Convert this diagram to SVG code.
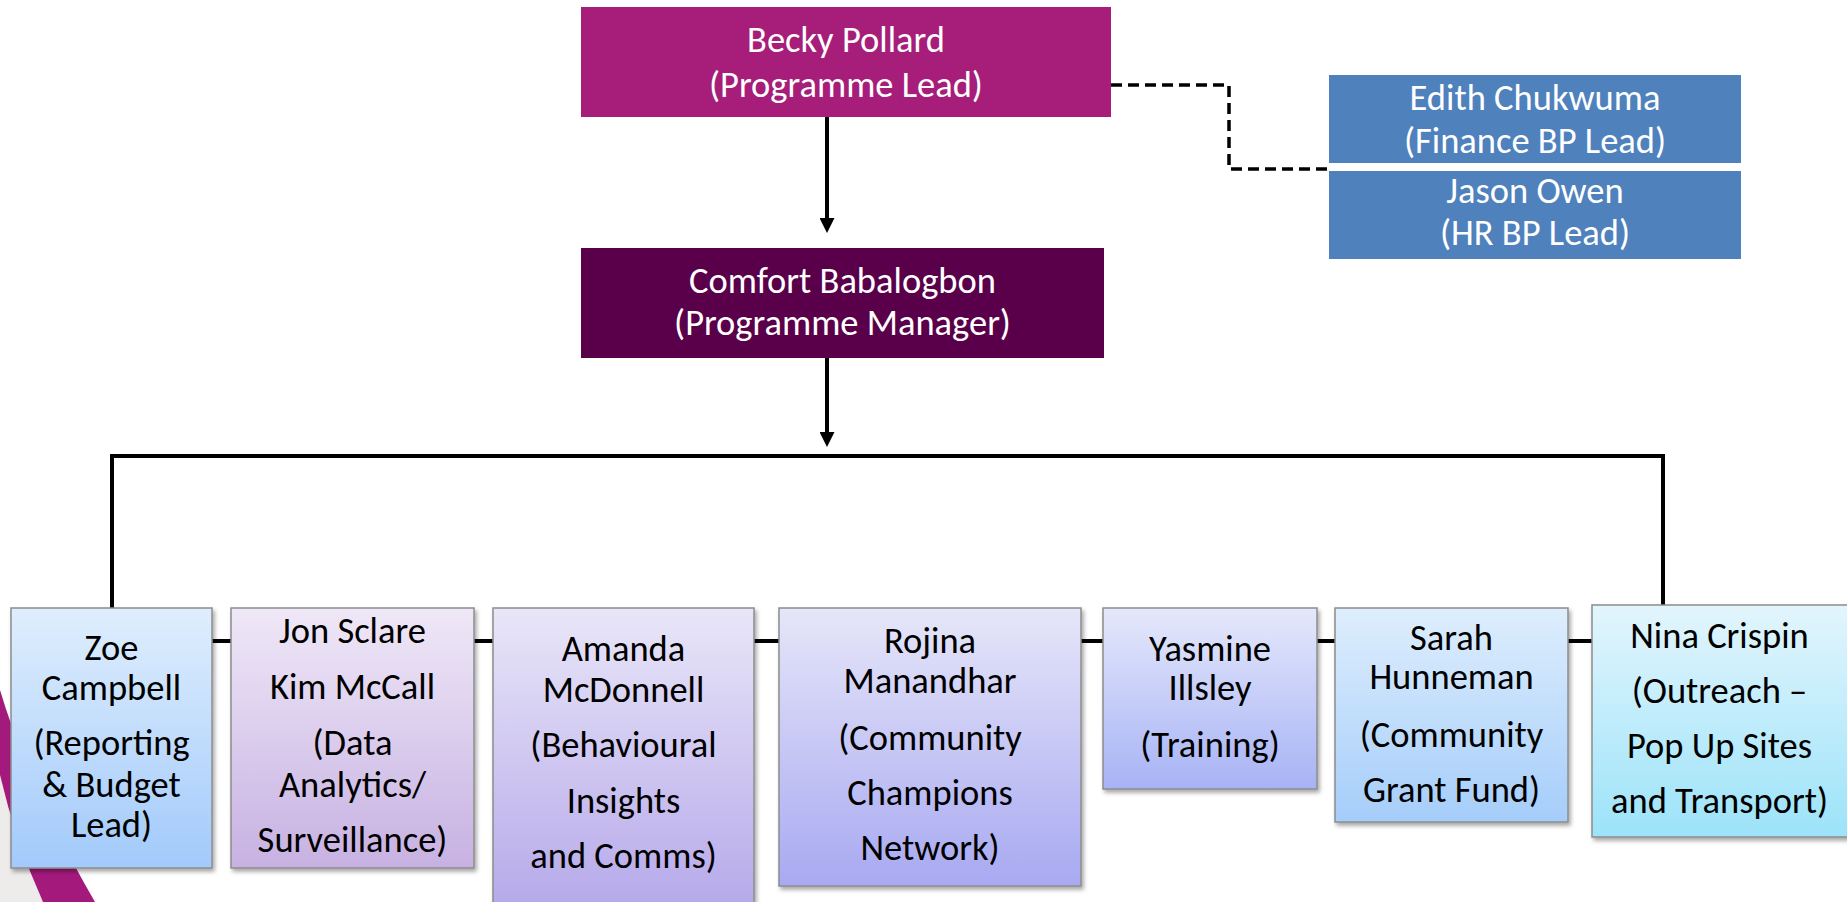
<svg xmlns="http://www.w3.org/2000/svg" width="1847" height="902" viewBox="0 0 1847 902">
<defs>
<style>
text{font-family:Calibri,Carlito,Lato,"Liberation Sans",sans-serif;font-size:36.5px;text-anchor:middle}
.w{fill:#ffffff}
.k{fill:#000000}
.box{stroke:#8c8c8c;stroke-width:1.5;filter:url(#sh)}
.ln{fill:none;stroke:#000;stroke-width:4}
.dash{fill:none;stroke:#000;stroke-width:3.5;stroke-dasharray:11 6}
</style>
<filter id="sh" x="-10%" y="-10%" width="125%" height="125%">
<feDropShadow dx="2" dy="3" stdDeviation="2" flood-color="#000" flood-opacity="0.35"/>
</filter>
<marker id="ah" viewBox="0 0 10 10" refX="5.3" refY="5" markerWidth="15" markerHeight="15" markerUnits="userSpaceOnUse" orient="auto">
<path d="M0,0 L10,5 L0,10 Z" fill="#000"/>
</marker>
<linearGradient id="gZoe" x1="0" y1="0" x2="0" y2="1"><stop offset="0" stop-color="#dfeefd"/><stop offset="1" stop-color="#a2cafb"/></linearGradient>
<linearGradient id="gJon" x1="0" y1="0" x2="0" y2="1"><stop offset="0" stop-color="#efe8f7"/><stop offset="1" stop-color="#c7b1e2"/></linearGradient>
<linearGradient id="gAm" x1="0" y1="0" x2="0" y2="1"><stop offset="0" stop-color="#e9e6f8"/><stop offset="1" stop-color="#b6a9ea"/></linearGradient>
<linearGradient id="gRo" x1="0" y1="0" x2="0" y2="1"><stop offset="0" stop-color="#e6e6f9"/><stop offset="1" stop-color="#a8a9f1"/></linearGradient>
<linearGradient id="gYa" x1="0" y1="0" x2="0" y2="1"><stop offset="0" stop-color="#e5e8fb"/><stop offset="1" stop-color="#a7b3f5"/></linearGradient>
<linearGradient id="gSa" x1="0" y1="0" x2="0" y2="1"><stop offset="0" stop-color="#deeefd"/><stop offset="1" stop-color="#a5cdfa"/></linearGradient>
<linearGradient id="gNi" x1="0" y1="0" x2="0" y2="1"><stop offset="0" stop-color="#e3f5fd"/><stop offset="1" stop-color="#9ce3f9"/></linearGradient>
</defs>
<rect width="1847" height="902" fill="#ffffff"/>
<g id="background">
<path d="M0,775 Q15,840 43,902 L0,902 Z" fill="#eeecea"/>
<path d="M0,690 Q30,790 95,902 L43,902 Q15,840 0,775 Z" fill="#a41a7c"/>
</g>
<g id="connectors">
<path class="ln" d="M827,117 V226" marker-end="url(#ah)"/>
<path class="ln" d="M827,358 V440" marker-end="url(#ah)"/>
<path class="ln" d="M112,608 V456 H1663 V605"/>
<path class="dash" d="M1111,85 H1229 V169 H1329"/>
<path class="ln" d="M212,641 H231 M474,641 H493 M754,641 H779 M1081,641 H1103 M1317,641 H1335 M1568,641 H1592"/>
</g>
<g id="becky">
<rect x="581" y="7" width="530" height="110" fill="#a61e79"/>
<text class="w" x="846" y="52">Becky Pollard</text>
<text class="w" x="846" y="97">(Programme Lead)</text>
</g>
<g id="comfort">
<rect x="581" y="248" width="523" height="110" fill="#5a004a"/>
<text class="w" x="842.5" y="293">Comfort Babalogbon</text>
<text class="w" x="842.5" y="335">(Programme Manager)</text>
</g>
<g id="edith">
<rect x="1329" y="75" width="412" height="88" fill="#4f81bd"/>
<text class="w" x="1535" y="110">Edith Chukwuma</text>
<text class="w" x="1535" y="153">(Finance BP Lead)</text>
</g>
<g id="jason">
<rect x="1329" y="171" width="412" height="88" fill="#4f81bd"/>
<text class="w" x="1535" y="203">Jason Owen</text>
<text class="w" x="1535" y="245">(HR BP Lead)</text>
</g>
<g id="zoe">
<rect class="box" x="11" y="608" width="201" height="260" fill="url(#gZoe)"/>
<text class="k" x="111.5" y="660">Zoe</text>
<text class="k" x="111.5" y="700">Campbell</text>
<text class="k" x="111.5" y="755">(Reporting</text>
<text class="k" x="111.5" y="797">&amp; Budget</text>
<text class="k" x="111.5" y="837">Lead)</text>
</g>
<g id="jon">
<rect class="box" x="231" y="608" width="243" height="260" fill="url(#gJon)"/>
<text class="k" x="352.5" y="643">Jon Sclare</text>
<text class="k" x="352.5" y="699">Kim McCall</text>
<text class="k" x="352.5" y="755">(Data</text>
<text class="k" x="352.5" y="797">Analytics/</text>
<text class="k" x="352.5" y="852">Surveillance)</text>
</g>
<g id="amanda">
<rect class="box" x="493" y="608" width="261" height="300" fill="url(#gAm)"/>
<text class="k" x="623.5" y="661">Amanda</text>
<text class="k" x="623.5" y="702">McDonnell</text>
<text class="k" x="623.5" y="757">(Behavioural</text>
<text class="k" x="623.5" y="813">Insights</text>
<text class="k" x="623.5" y="868">and Comms)</text>
</g>
<g id="rojina">
<rect class="box" x="779" y="608" width="302" height="278" fill="url(#gRo)"/>
<text class="k" x="930" y="653">Rojina</text>
<text class="k" x="930" y="693">Manandhar</text>
<text class="k" x="930" y="750">(Community</text>
<text class="k" x="930" y="805">Champions</text>
<text class="k" x="930" y="860">Network)</text>
</g>
<g id="yasmine">
<rect class="box" x="1103" y="608" width="214" height="181" fill="url(#gYa)"/>
<text class="k" x="1210" y="661">Yasmine</text>
<text class="k" x="1210" y="700">Illsley</text>
<text class="k" x="1210" y="757">(Training)</text>
</g>
<g id="sarah">
<rect class="box" x="1335" y="608" width="233" height="214" fill="url(#gSa)"/>
<text class="k" x="1451.5" y="650">Sarah</text>
<text class="k" x="1451.5" y="689">Hunneman</text>
<text class="k" x="1451.5" y="747">(Community</text>
<text class="k" x="1451.5" y="802">Grant Fund)</text>
</g>
<g id="nina">
<rect class="box" x="1592" y="605" width="258" height="232" fill="url(#gNi)"/>
<text class="k" x="1719.5" y="648">Nina Crispin</text>
<text class="k" x="1719.5" y="703">(Outreach –</text>
<text class="k" x="1719.5" y="758">Pop Up Sites</text>
<text class="k" x="1719.5" y="813">and Transport)</text>
</g>
</svg>
